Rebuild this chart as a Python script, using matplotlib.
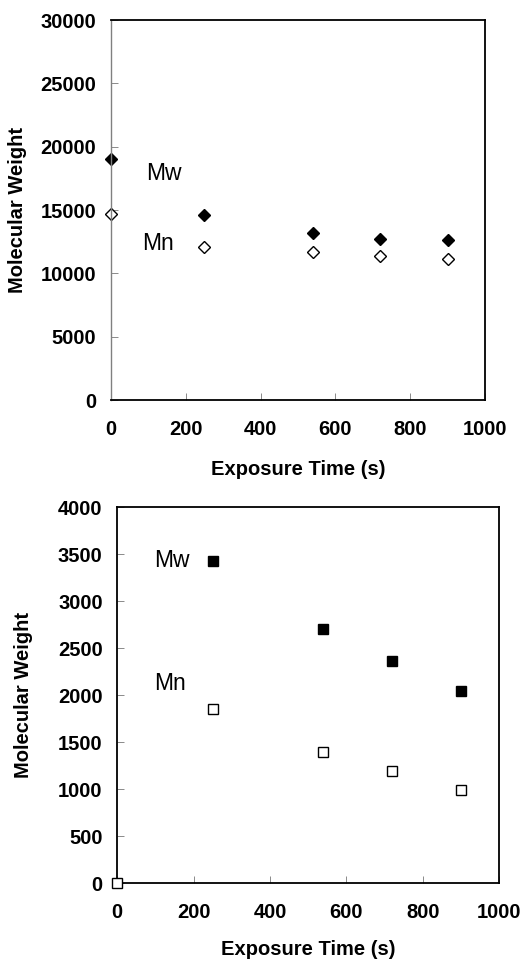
import matplotlib
matplotlib.use("Agg")
import matplotlib.pyplot as plt

plt.rcParams["font.family"] = ["Liberation Sans", "DejaVu Sans"]

# top panel: diamonds
time_top = [0, 250, 540, 720, 900]
mw_top = [19000, 14600, 13200, 12750, 12650]
mn_top = [14650, 12050, 11650, 11380, 11100]

# bottom panel: squares
time_mw_bot = [250, 540, 720, 900]
mw_bot = [3430, 2700, 2360, 2050]
time_mn_bot = [0, 250, 540, 720, 900]
mn_bot = [0, 1855, 1395, 1190, 995]

x_ticks = [0, 200, 400, 600, 800, 1000]
y_ticks_top = [0, 5000, 10000, 15000, 20000, 25000, 30000]
y_ticks_bot = [0, 500, 1000, 1500, 2000, 2500, 3000, 3500, 4000]


def style_axes(ax, yticks, ylim, left_grey=False):
    ax.set_xlim(0, 1000)
    ax.set_ylim(*ylim)
    ax.set_xticks(x_ticks)
    ax.set_yticks(yticks)
    ax.tick_params(direction="in", length=5, width=0.6, color="#777777",
                   labelsize=14.5)
    ax.tick_params(axis="x", pad=14.5)
    ax.tick_params(axis="y", pad=10.5)
    for lab in ax.get_xticklabels() + ax.get_yticklabels():
        lab.set_fontweight("bold")
    for sp in ax.spines.values():
        sp.set_linewidth(1.3)
        sp.set_color("black")
    if left_grey:
        ax.spines["left"].set_color("#808080")
        ax.spines["left"].set_linewidth(1.0)
    ax.set_xlabel("Exposure Time (s)", fontsize=14.5, fontweight="bold")
    ax.set_ylabel("Molecular Weight", fontsize=14.5, fontweight="bold")


fig = plt.figure(figsize=(5.32, 9.6), dpi=100)

ax1 = fig.add_axes([0.2086, 0.5833, 0.703, 0.3958])
ax1.plot(time_top, mw_top, ls="none", marker="D", ms=6.2, mfc="black",
         mec="black", mew=1.0, clip_on=False)
ax1.plot(time_top, mn_top, ls="none", marker="D", ms=6.2, mfc="white",
         mec="black", mew=1.0, clip_on=False)
style_axes(ax1, y_ticks_top, (0, 30000), left_grey=True)
ax1.xaxis.set_label_coords(0.5, -0.158)
ax1.yaxis.set_label_coords(-0.225, 0.5)
ax1.text(95, 17900, "Mw", fontsize=16.5, va="center", ha="left")
ax1.text(82, 12370, "Mn", fontsize=16.5, va="center", ha="left")

ax2 = fig.add_axes([0.2205, 0.0799, 0.7175, 0.3917])
ax2.plot(time_mw_bot, mw_bot, ls="none", marker="s", ms=7, mfc="black",
         mec="black", mew=1.0, clip_on=False)
ax2.plot(time_mn_bot, mn_bot, ls="none", marker="s", ms=7, mfc="white",
         mec="black", mew=1.0, clip_on=False, zorder=5)
style_axes(ax2, y_ticks_bot, (0, 4000))
ax2.xaxis.set_label_coords(0.5, -0.151)
ax2.yaxis.set_label_coords(-0.221, 0.5)
ax2.text(97, 3433, "Mw", fontsize=16.5, va="center", ha="left")
ax2.text(97, 2128, "Mn", fontsize=16.5, va="center", ha="left")

fig.savefig("out.png", dpi=100)
